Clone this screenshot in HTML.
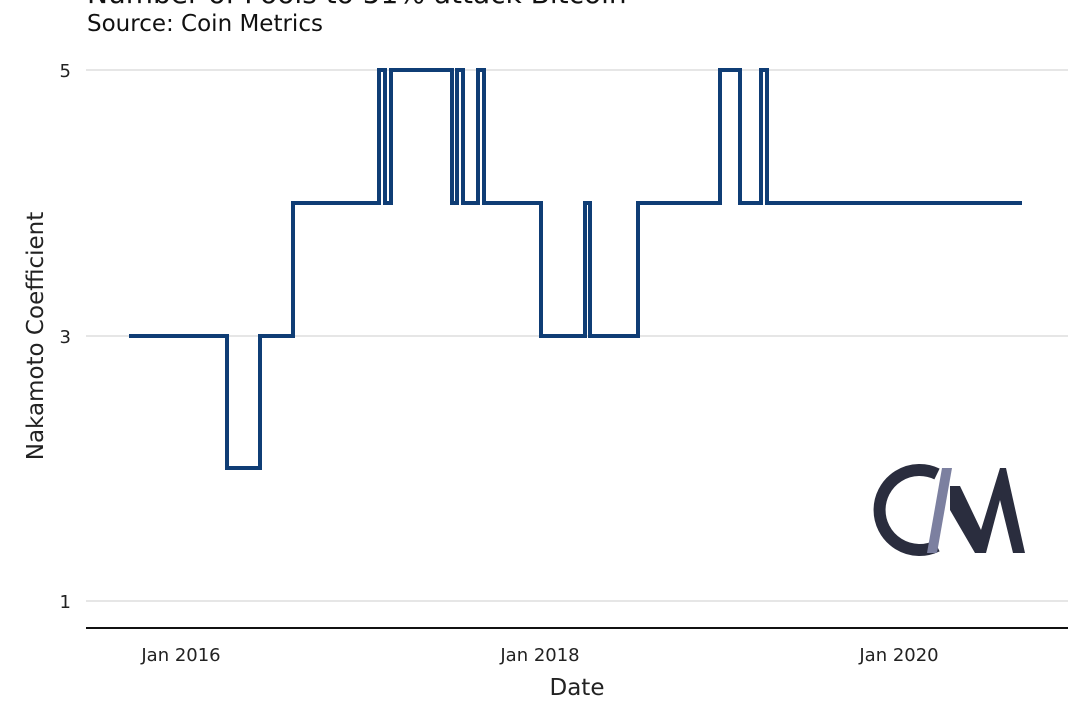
<!DOCTYPE html>
<html><head><meta charset="utf-8"><style>
body{margin:0;background:#fff;}
svg{display:block;font-family:"DejaVu Sans","Liberation Sans",sans-serif;}
</style></head><body>
<svg width="1080" height="711" viewBox="0 0 1080 711">
<text x="87" y="3" font-size="28" fill="#111">Number of Pools to 51% attack Bitcoin</text>
<text x="87" y="31" font-size="23" fill="#111">Source: Coin Metrics</text>
<g stroke="#e6e6e6" stroke-width="2">
<line x1="86" y1="70" x2="1068" y2="70"/>
<line x1="86" y1="336" x2="1068" y2="336"/>
<line x1="86" y1="601" x2="1068" y2="601"/>
</g>
<line x1="86" y1="628" x2="1068" y2="628" stroke="#111" stroke-width="2"/>
<g font-size="18" fill="#222" text-anchor="end">
<text x="71" y="77">5</text>
<text x="71" y="343">3</text>
<text x="71" y="608">1</text>
</g>
<g font-size="18" fill="#222" text-anchor="middle">
<text x="181" y="661">Jan 2016</text>
<text x="540" y="661">Jan 2018</text>
<text x="899" y="661">Jan 2020</text>
</g>
<text x="577" y="695" font-size="23" fill="#222" text-anchor="middle">Date</text>
<text transform="translate(43,336) rotate(-90)" font-size="23" fill="#222" text-anchor="middle">Nakamoto Coefficient</text>
<polyline fill="none" stroke="#0f3d75" stroke-width="4" stroke-linejoin="miter" points="
129,336 227,336 227,468 260,468 260,336 293,336 293,203 379,203 379,70 385,70 385,203 391,203 391,70 452,70 452,203 457,203 457,70 463,70 463,203 478,203 478,70 484,70 484,203 541,203 541,336 585,336 585,203 590,203 590,336 638,336 638,203 720,203 720,70 740,70 740,203 761,203 761,70 767,70 767,203 1022,203"/>
<g>
<path d="M937,474 A40,40 0 1 0 937,546" fill="none" stroke="#2a2d3e" stroke-width="12"/>
<polygon points="942,468 952,468 937,553 927,553" fill="#7c80a0"/>
<polygon points="950,486 960,486 981,530 1000,468 1006,468 1025,553 1013,553 1000,500 986,553 975,553 950,510" fill="#2a2d3e"/>
</g>
</svg>
</body></html>
